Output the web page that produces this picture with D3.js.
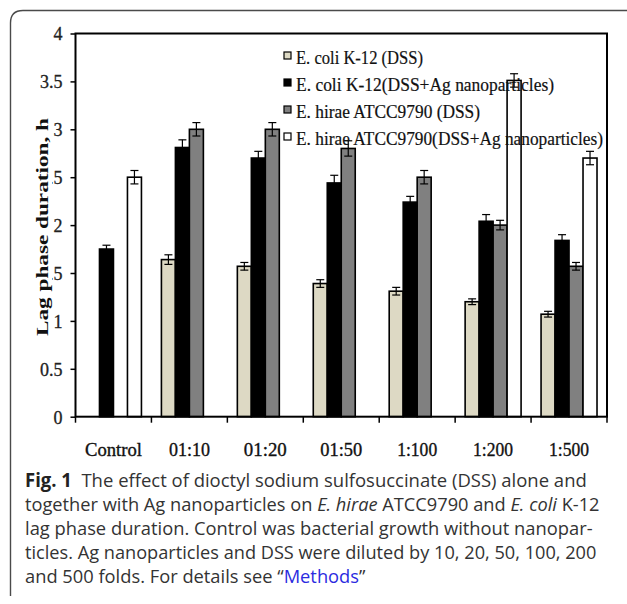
<!DOCTYPE html>
<html><head><meta charset="utf-8">
<script src="https://cdn.jsdelivr.net/npm/d3@7"></script>
<style>body{margin:0;background:#fff}svg{display:block}</style>
</head><body>
<svg id="c" width="627" height="604"></svg>
<script>
const categories = ["Control","01:10","01:20","01:50","1:100","1:200","1:500"];
const seriesNames = ["E. coli K-12 (DSS)","E. coli K-12(DSS+Ag nanoparticles)","E. hirae ATCC9790 (DSS)","E. hirae ATCC9790(DSS+Ag nanoparticles)"];
const ecoliDSS      = [null,1.64,1.57,1.39,1.31,1.20,1.07];
const ecoliDSSAg    = [1.75,2.81,2.70,2.44,2.24,2.04,1.84];
const hiraeDSS      = [null,3.00,3.00,2.80,2.50,2.00,1.57];
const hiraeDSSAg    = [2.50,null,null,null,null,3.51,2.70];
const ecoliDSSErr   = [0,0.05,0.04,0.04,0.04,0.03,0.03];
const ecoliDSSAgErr = [0.04,0.08,0.07,0.08,0.06,0.07,0.06];
const hiraeDSSErr   = [0,0.07,0.07,0.08,0.07,0.05,0.04];
const hiraeDSSAgErr = [0.07,0,0,0,0,0.07,0.07];
const yTicks = [0,0.5,1,1.5,2,2.5,3,3.5,4];
const yTickLabels = ["0","0.5","1","1.5","2","2.5","3","3.5","4"];
const fills = ["#ddd9c4","#000000","#808080","#ffffff"];

const values = [ecoliDSS, ecoliDSSAg, hiraeDSS, hiraeDSSAg];
const errs = [ecoliDSSErr, ecoliDSSAgErr, hiraeDSSErr, hiraeDSSAgErr];

const svg = d3.select("#c");
const L = 75.5, R = 607, T = 33.5, B = 416.7;

// outer frame
svg.append("path")
  .attr("d", `M10.5,596 L10.5,23 Q10.5,10.5 23,10.5 L627,10.5`)
  .attr("fill","none").attr("stroke","#4a4a4a").attr("stroke-width",1.4);

const x0 = d3.scaleBand().domain(categories).range([L, R]).padding(0);
const x1 = d3.scaleBand().domain(d3.range(4)).range([0, x0.bandwidth()]).paddingInner(0).paddingOuter(0.714);
const y = d3.scaleLinear().domain([0,4]).range([B, T]);

const serif = "'Liberation Serif','Times New Roman',serif";

// bars
const rows = [];
categories.forEach((c, ci) => values.forEach((arr, si) => {
  if (arr[ci] != null) rows.push({c, si, v: arr[ci], e: errs[si][ci]});
}));
const g = svg.append("g");
g.selectAll("rect.bar").data(rows).join("rect").attr("class","bar")
  .attr("x", d => x0(d.c) + x1(d.si))
  .attr("y", d => y(d.v))
  .attr("width", x1.bandwidth())
  .attr("height", d => y(0) - y(d.v))
  .attr("fill", d => fills[d.si]).attr("stroke","#000").attr("stroke-width",1.6);

// error bars
const eb = g.selectAll("g.err").data(rows.filter(d => d.e > 0)).join("g").attr("class","err");
eb.append("line")
  .attr("x1", d => x0(d.c) + x1(d.si) + x1.bandwidth()/2)
  .attr("x2", d => x0(d.c) + x1(d.si) + x1.bandwidth()/2)
  .attr("y1", d => y(d.v + d.e)).attr("y2", d => y(d.v - d.e))
  .attr("stroke","#000").attr("stroke-width",1.2);
[1,-1].forEach(s => {
  eb.append("line")
    .attr("x1", d => x0(d.c) + x1(d.si) + x1.bandwidth()/2 - 4)
    .attr("x2", d => x0(d.c) + x1(d.si) + x1.bandwidth()/2 + 4)
    .attr("y1", d => y(d.v + s*d.e)).attr("y2", d => y(d.v + s*d.e))
    .attr("stroke","#000").attr("stroke-width",1.2);
});

// plot frame
svg.append("rect").attr("x",L).attr("y",T).attr("width",R-L).attr("height",B-T)
  .attr("fill","none").attr("stroke","#000").attr("stroke-width",2);

// y axis
const yAxis = d3.axisLeft(y).tickValues(yTicks).tickFormat((d,i)=>yTickLabels[i]).tickSize(5).tickPadding(8);
const ya = svg.append("g").attr("transform",`translate(${L},0)`).call(yAxis);
ya.select(".domain").remove();
ya.selectAll(".tick line").attr("stroke","#000").attr("stroke-width",1.5);
ya.selectAll(".tick text").attr("font-family",serif).attr("font-size",18).attr("fill","#222")
  .attr("stroke","#222").attr("stroke-width",0.3).attr("dy","0.36em");

// x axis (ticks at group boundaries)
const bounds = categories.map(c => x0(c)).concat([R]);
svg.append("g").selectAll("line").data(bounds).join("line")
  .attr("x1", d=>d).attr("x2", d=>d).attr("y1", B).attr("y2", B+6)
  .attr("stroke","#000").attr("stroke-width",1.5);
const xLabelW = [57,41,43,42,40,40,40];
svg.append("g").selectAll("text").data(categories).join("text")
  .attr("x", d => x0(d) + x0.bandwidth()/2).attr("y", 456)
  .attr("text-anchor","middle").attr("font-family",serif).attr("font-size",19)
  .attr("fill","#111").attr("stroke","#111").attr("stroke-width",0.35)
  .attr("textLength",(d,i)=>xLabelW[i]).attr("lengthAdjust","spacingAndGlyphs")
  .text(d=>d);

// y title (with white backing that hides part of the tick labels, as in the original)
svg.append("rect").attr("x",34).attr("y",118).attr("width",18).attr("height",218).attr("fill","#fff");
svg.append("text")
  .attr("transform","translate(48,227) rotate(-90)")
  .attr("text-anchor","middle").attr("font-family",serif).attr("font-size",17).attr("font-weight","bold")
  .attr("fill","#111").attr("textLength",218).attr("lengthAdjust","spacingAndGlyphs")
  .text("Lag phase duration, h");

// legend
const legendW = [127,258,184,307];
const lg = svg.append("g").selectAll("g").data(seriesNames).join("g")
  .attr("transform",(d,i)=>`translate(284,${64 + i*27})`);
lg.append("rect").attr("x",0).attr("y",-12).attr("width",7).attr("height",7)
  .attr("fill",(d,i)=>fills[i]).attr("stroke","#000").attr("stroke-width",1.2);
lg.append("text").attr("x",12).attr("y",0).attr("font-family",serif).attr("font-size",19)
  .attr("fill","#111").attr("stroke","#111").attr("stroke-width",0.2)
  .attr("textLength",(d,i)=>legendW[i]).attr("lengthAdjust","spacingAndGlyphs")
  .text(d=>d);

// caption
const capLines = [
  [["Fig. 1","b"],["  The effect of dioctyl sodium sulfosuccinate (DSS) alone and",""]],
  [["together with Ag nanoparticles on ",""],["E. hirae","i"],[" ATCC9790 and ",""],["E. coli","i"],[" K-12",""]],
  [["lag phase duration. Control was bacterial growth without nanopar-",""]],
  [["ticles. Ag nanoparticles and DSS were diluted by 10, 20, 50, 100, 200",""]],
  [["and 500 folds. For details see \u201C",""],["Methods","l"],["\u201D",""]]
];
const capRight = [587,600,593,597,null];
const capBase = [487,511,535,559,583];
const capX = 25;
const scales = [];
capLines.forEach((ln, i) => {
  const t = svg.append("text").attr("x",0).attr("y",0)
    .attr("font-family","'Open Sans','Noto Sans',sans-serif").attr("font-size",19).attr("fill","#333")
    .attr("xml:space","preserve").style("white-space","pre");
  ln.forEach(([s,f]) => {
    const ts = t.append("tspan").text(s);
    if (f==="b") ts.attr("font-weight","bold").attr("fill","#222");
    if (f==="i") ts.attr("font-style","italic");
    if (f==="l") ts.attr("fill","#2b2bdf");
  });
  const w = t.node().getComputedTextLength();
  let sx = capRight[i] ? (capRight[i]-capX)/w : d3.mean(scales);
  scales.push(sx);
  t.attr("transform",`translate(${capX},${capBase[i]}) scale(${sx},1)`);
});
</script>
</body></html>
